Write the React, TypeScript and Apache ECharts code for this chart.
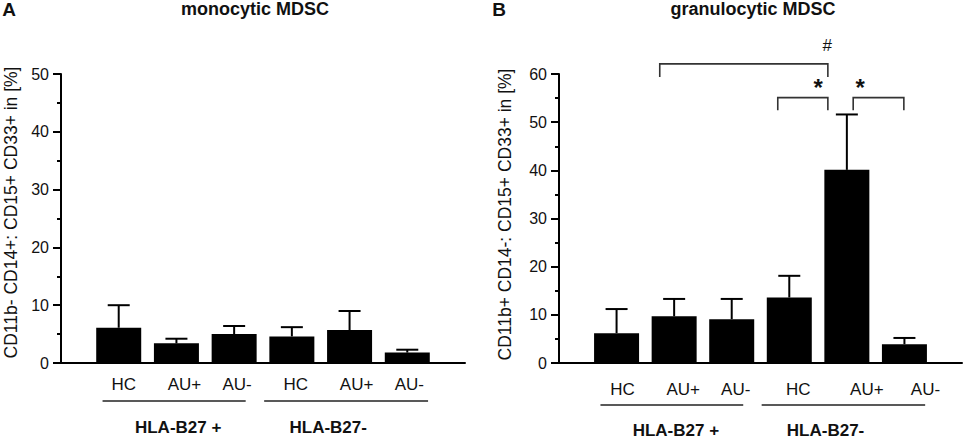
import React, { useEffect, useRef } from "react";
import * as echarts from "echarts";

// ---- data ----
const CATEGORIES = ["HC", "AU+", "AU-", "HC", "AU+", "AU-"];
const POSITIONS = [1, 2, 3, 4, 5, 6];
const MONO_MEAN = [6.1, 3.4, 5.0, 4.6, 5.7, 1.8];
const MONO_SD = [3.9, 0.8, 1.4, 1.6, 3.3, 0.5];
const GRAN_MEAN = [6.2, 9.7, 9.1, 13.6, 40.1, 3.9];
const GRAN_SD = [5.0, 3.6, 4.2, 4.5, 11.5, 1.3];
const GROUP_NAMES = ["HLA-B27 +", "HLA-B27-"];
const GROUP_START = [0.72, 3.52];
const GROUP_END = [3.2, 6.36];
const GROUP_LABEL_AT = [2.03, 4.63];
// brackets: [x1, x2, yTop, yLegEnd]
const BRACKETS = [
  [1.75, 4.67, 62.1, 59.4],
  [3.8, 4.67, 55.1, 52.5],
  [5.11, 5.99, 55.1, 52.5],
];
const SIG_TEXT = ["#", "*", "*"];
const SIG_X = [4.66, 4.5, 5.23];
const SIG_Y = [66.0, 57.3, 57.3];
const Y_TICKS_A = { min: 0, max: 50, interval: 10 };
const Y_TICKS_B = { min: 0, max: 60, interval: 10 };

// ---- styles ----
const FONT = "'Liberation Sans', Arial, sans-serif";
const LABEL_OFFSET_A = [5, 8, 3, 4, 7, 2];
const LABEL_OFFSET_B = [6, 9, 4, 9, 20, 21];
const X_LABEL_SIZE = 17;

function richFor(offsets: number[]) {
  const r: any = {};
  offsets.forEach((o, i) => {
    r["o" + i] = {
      fontSize: X_LABEL_SIZE,
      fontFamily: FONT,
      color: "#111",
      padding: [0, 0, 0, o * 2],
    };
  });
  return r;
}

function xAxisFor(gridIndex: number, offsets: number[], margin: number) {
  return {
    type: "value",
    gridIndex,
    min: 0,
    max: 7,
    interval: 1,
    splitLine: { show: false },
    axisTick: { show: false },
    axisLine: { show: true, lineStyle: { color: "#000", width: 2 } },
    axisLabel: {
      margin,
      fontSize: X_LABEL_SIZE,
      fontFamily: FONT,
      color: "#111",
      showMinLabel: true,
      showMaxLabel: true,
      formatter: (v: number) => {
        const i = Math.round(v) - 1;
        if (i < 0 || i >= CATEGORIES.length) return "";
        return "{o" + i + "|" + CATEGORIES[i] + "}";
      },
      rich: richFor(offsets),
    },
  };
}

function yAxisFor(gridIndex: number, ticks: any, name: string, nameGap: number, shift: number) {
  return {
    type: "value",
    gridIndex,
    min: ticks.min,
    max: ticks.max,
    interval: ticks.interval,
    name,
    nameLocation: "middle",
    nameGap,
    nameTextStyle: { fontSize: 17.5, fontFamily: FONT, color: "#111", padding: [0, 0, 0, shift] },
    splitLine: { show: false },
    axisLine: { show: true, lineStyle: { color: "#000", width: 2 } },
    axisTick: { show: true, length: 8, lineStyle: { color: "#000", width: 2 } },
    minorTick: { show: true, splitNumber: 2, length: 4, lineStyle: { color: "#000", width: 2 } },
    axisLabel: { fontSize: 16, fontFamily: FONT, color: "#111", margin: 12 },
  };
}

function barSeries(idx: number, mean: number[]) {
  return {
    type: "bar",
    xAxisIndex: idx,
    yAxisIndex: idx,
    barWidth: 45,
    itemStyle: { color: "#000" },
    data: POSITIONS.map((p, i) => [p, mean[i]]),
    z: 2,
  };
}

function errorSeries(idx: number, mean: number[], sd: number[]) {
  return {
    type: "custom",
    xAxisIndex: idx,
    yAxisIndex: idx,
    clip: false,
    z: 3,
    data: POSITIONS.map((p, i) => [p, mean[i], mean[i] + sd[i]]),
    renderItem: (params: any, api: any) => {
      const x = api.value(0);
      const p0 = api.coord([x, api.value(1)]);
      const p1 = api.coord([x, api.value(2)]);
      const half = 11;
      return {
        type: "group",
        children: [
          {
            type: "line",
            shape: { x1: p0[0], y1: p0[1], x2: p1[0], y2: p1[1] },
            style: { stroke: "#000", lineWidth: 2 },
          },
          {
            type: "line",
            shape: { x1: p1[0] - half, y1: p1[1], x2: p1[0] + half, y2: p1[1] },
            style: { stroke: "#000", lineWidth: 2 },
          },
        ],
      };
    },
  };
}

function groupSeries(idx: number, lineDy: number, labelDy: number) {
  return {
    type: "custom",
    xAxisIndex: idx,
    yAxisIndex: idx,
    clip: false,
    silent: true,
    data: GROUP_NAMES.map((_, i) => [GROUP_START[i], GROUP_END[i], GROUP_LABEL_AT[i]]),
    renderItem: (params: any, api: any) => {
      const i = params.dataIndex;
      const a = api.coord([api.value(0), 0]);
      const b = api.coord([api.value(1), 0]);
      const c = api.coord([api.value(2), 0]);
      return {
        type: "group",
        children: [
          {
            type: "line",
            shape: { x1: a[0], y1: a[1] + lineDy, x2: b[0], y2: b[1] + lineDy },
            style: { stroke: "#222", lineWidth: 1.5 },
          },
          {
            type: "text",
            x: c[0],
            y: c[1] + labelDy,
            style: {
              text: GROUP_NAMES[i],
              font: "bold 17px " + FONT,
              fill: "#111",
              align: "center",
              verticalAlign: "middle",
              textAlign: "center",
              textVerticalAlign: "middle",
            },
          },
        ],
      };
    },
  };
}

function bracketSeries() {
  return {
    type: "custom",
    xAxisIndex: 1,
    yAxisIndex: 1,
    clip: false,
    silent: true,
    z: 4,
    data: BRACKETS.map((b, i) => [b[0], b[1], b[2], b[3], SIG_X[i], SIG_Y[i]]),
    renderItem: (params: any, api: any) => {
      const i = params.dataIndex;
      const x1 = api.value(0);
      const x2 = api.value(1);
      const yt = api.value(2);
      const yl = api.value(3);
      const pts = [
        api.coord([x1, yl]),
        api.coord([x1, yt]),
        api.coord([x2, yt]),
        api.coord([x2, yl]),
      ];
      const s = api.coord([api.value(4), api.value(5)]);
      const isStar = SIG_TEXT[i] === "*";
      return {
        type: "group",
        children: [
          {
            type: "polyline",
            shape: { points: pts, smooth: 0 },
            style: { stroke: "#333", lineWidth: 1.6, fill: null },
          },
          {
            type: "text",
            x: s[0],
            y: s[1],
            style: {
              text: SIG_TEXT[i],
              font: (isStar ? "bold 24px " : "17px ") + FONT,
              fill: "#111",
              align: "center",
              verticalAlign: "middle",
              textAlign: "center",
              textVerticalAlign: "middle",
            },
          },
        ],
      };
    },
  };
}

function titleText(text: string, x: number, bold: number, size: number) {
  return {
    type: "text",
    x,
    y: 9,
    style: {
      text,
      font: (bold ? "bold " : "") + size + "px " + FONT,
      fill: "#111",
      align: "center",
      verticalAlign: "middle",
      textAlign: "center",
      textVerticalAlign: "middle",
    },
  };
}

export default function App() {
  const ref = useRef<HTMLDivElement>(null);
  useEffect(() => {
    if (!ref.current) return;
    const chart = echarts.init(ref.current, null, { renderer: "svg" });
    chart.setOption({
      animation: false,
      backgroundColor: "#fff",
      textStyle: { fontFamily: FONT },
      grid: [
        { left: 61, top: 74, width: 404, height: 289 },
        { left: 559, top: 74, width: 403, height: 289 },
      ],
      xAxis: [xAxisFor(0, LABEL_OFFSET_A, 13), xAxisFor(1, LABEL_OFFSET_B, 18)],
      yAxis: [
        yAxisFor(0, Y_TICKS_A, "CD11b- CD14+: CD15+ CD33+ in [%]", 41, 12),
        yAxisFor(1, Y_TICKS_B, "CD11b+ CD14-: CD15+ CD33+ in [%]", 45, 8),
      ],
      graphic: [
        titleText("A", 9, 1, 19),
        titleText("monocytic MDSC", 255, 1, 18),
        titleText("B", 499, 1, 19),
        titleText("granulocytic MDSC", 753, 1, 18),
      ],
      series: [
        barSeries(0, MONO_MEAN),
        errorSeries(0, MONO_MEAN, MONO_SD),
        groupSeries(0, 38, 64),
        barSeries(1, GRAN_MEAN),
        errorSeries(1, GRAN_MEAN, GRAN_SD),
        groupSeries(1, 42, 67),
        bracketSeries(),
      ],
    });
    return () => chart.dispose();
  }, []);
  return (
    <div
      ref={ref}
      style={{ position: "fixed", left: 0, top: 0, width: 965, height: 439, background: "#fff" }}
    />
  );
}
